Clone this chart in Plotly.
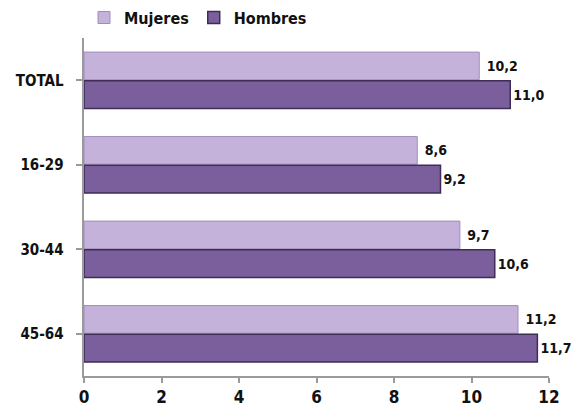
import plotly.graph_objects as go

categories = ["TOTAL", "16-29", "30-44", "45-64"]
mujeres = [10.2, 8.6, 9.7, 11.2]
hombres = [11.0, 9.2, 10.6, 11.7]
x_ticks = [0, 2, 4, 6, 8, 10, 12]

FONT = "Liberation Sans Narrow, DejaVu Sans Condensed, Arial Narrow, sans-serif"

def lab(vals, pad):
    return [pad + f"{v:.1f}".replace(".", ",") for v in vals]

fig = go.Figure()
fig.add_trace(go.Bar(
    y=categories, x=mujeres, name="Mujeres", orientation="h",
    marker=dict(color="#c4b2da", line=dict(color="#a08cbb", width=1)),
    text=lab(mujeres, " "), textposition="outside", cliponaxis=False,
    textfont=dict(family=FONT, size=14, color="#111111", weight="bold"),
))
fig.add_trace(go.Bar(
    y=categories, x=hombres, name="Hombres", orientation="h",
    marker=dict(color="#7b5f9d", line=dict(color="#3e2d55", width=1.5)),
    text=lab(hombres, ""), textposition="outside", cliponaxis=False,
    textfont=dict(family=FONT, size=14, color="#111111", weight="bold"),
))

fig.update_layout(
    width=574, height=400,
    margin=dict(l=76, r=33, t=30, b=32, autoexpand=False),
    paper_bgcolor="white", plot_bgcolor="white",
    barmode="group", bargap=0.32, bargroupgap=0.04,
    font=dict(family=FONT, color="#111111", weight="bold"),
    legend=dict(orientation="h", x=0.0, y=1.01, xanchor="left", yanchor="bottom",
                font=dict(family=FONT, size=16, color="#111111", weight="bold"),
                itemwidth=30, traceorder="normal", tracegroupgap=0),
    xaxis=dict(range=[0, 12], tickvals=x_ticks, ticktext=[str(t) for t in x_ticks],
               automargin=False,
               showgrid=False, zeroline=False, showline=True, linecolor="#9a9a9a", linewidth=2,
               ticks="outside", tickcolor="#9a9a9a", ticklen=5, tickwidth=2,
               tickfont=dict(family=FONT, size=17, color="#111111", weight="bold")),
    yaxis=dict(autorange="reversed", showgrid=False, showline=True, linecolor="#9a9a9a",
               automargin=False,
               linewidth=2, ticks="outside", tickcolor="#9a9a9a", ticklen=6, tickwidth=2,
               tickfont=dict(family=FONT, size=15, color="#111111", weight="bold"), ticksuffix="  "),
)

fig.write_html("out.html")
